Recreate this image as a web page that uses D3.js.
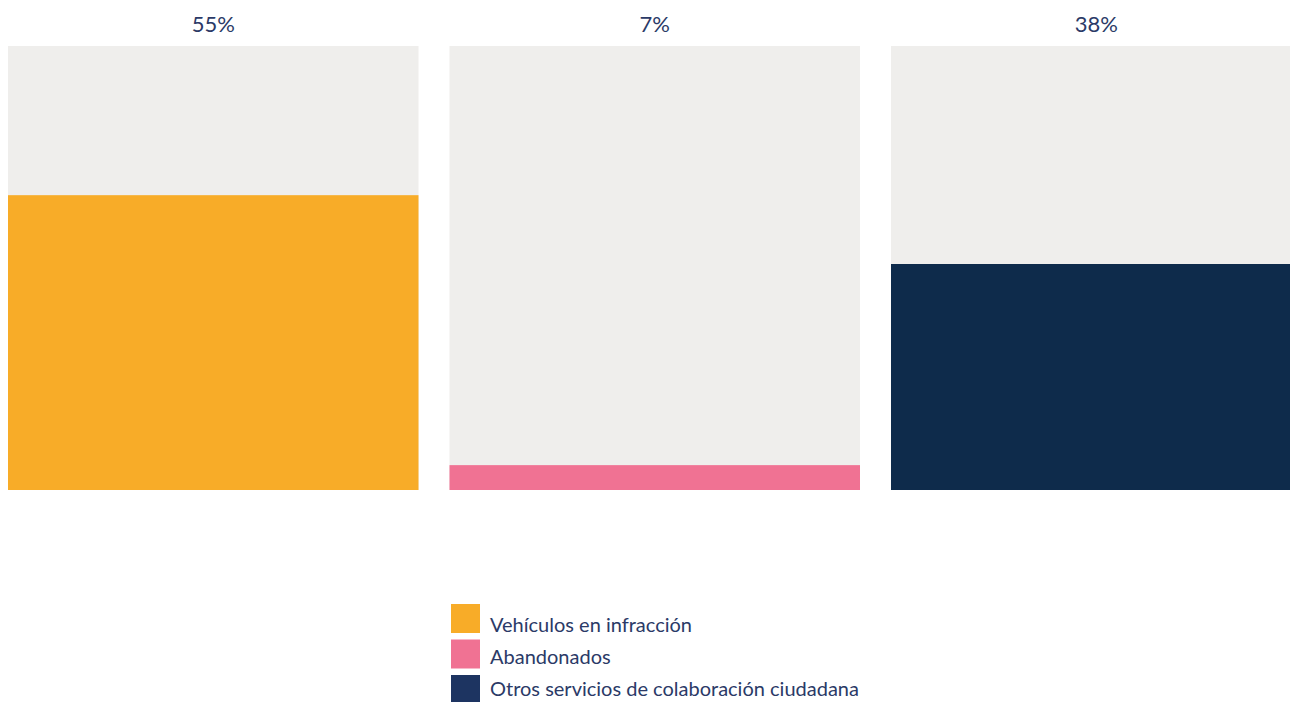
<!DOCTYPE html>
<html>
  <head>
    <meta charset="UTF-8">
    <title>Servicios de grúa</title>
    <script src="https://d3js.org/d3.v7.min.js"></script>
    <style>
      body { margin: 0; background: #fff; }
      svg { display: block; font-family: Lato, "Open Sans", sans-serif; }
    </style>
  </head>
  <body>
    <div id="chart-container"></div>
    <script>
      // categories and values
      const categories = ["Vehículos en infracción", "Abandonados", "Otros servicios de colaboración ciudadana"];
      const shareLabels = [55, 7, 38];          // percentage printed above each panel
      const fillLevels = [66.4, 5.6, 50.9];     // filled height of each panel (% of panel)
      const colors = ["#f8ac28", "#f07293", "#0e2b4b"];
      const legendColors = ["#f8ac28", "#f07293", "#1d3461"];

      const width = 1290, height = 702;
      const panelTop = 46, panelBottom = 490;

      const svg = d3.select("#chart-container")
        .append("svg")
        .attr("width", width)
        .attr("height", height);

      // x: one panel per category (third panel runs past the right edge)
      const step = 441.5, gap = 31;
      const x = d3.scaleBand()
        .domain(categories)
        .range([8, 8 + 3 * step - gap])
        .paddingInner(gap / step)
        .paddingOuter(0);

      const y = d3.scaleLinear()
        .domain([0, 100])
        .range([panelBottom, panelTop]);

      const data = categories.map((c, i) => ({
        cat: c, label: shareLabels[i], level: fillLevels[i], color: colors[i]
      }));

      // grey background panels
      svg.selectAll("rect.bg")
        .data(data)
        .join("rect")
        .attr("class", "bg")
        .attr("x", d => x(d.cat))
        .attr("y", y(100))
        .attr("width", x.bandwidth())
        .attr("height", y(0) - y(100))
        .attr("fill", "#efeeec");

      // filled bars
      svg.selectAll("rect.bar")
        .data(data)
        .join("rect")
        .attr("class", "bar")
        .attr("x", d => x(d.cat))
        .attr("y", d => y(d.level))
        .attr("width", x.bandwidth())
        .attr("height", d => y(0) - y(d.level))
        .attr("fill", d => d.color);

      // percentage labels
      svg.selectAll("text.pct")
        .data(data)
        .join("text")
        .attr("class", "pct")
        .attr("x", d => x(d.cat) + x.bandwidth() / 2)
        .attr("y", 32)
        .attr("text-anchor", "middle")
        .attr("fill", "#2b3a67")
        .style("font-size", "22px")
        .text(d => d.label + "%");

      // legend
      const legend = svg.append("g")
        .attr("transform", "translate(451, 604)");

      legend.selectAll("rect")
        .data(categories)
        .join("rect")
        .attr("x", 0)
        .attr("y", (d, i) => i * 35.5)
        .attr("width", 29)
        .attr("height", 29)
        .attr("fill", (d, i) => legendColors[i]);

      legend.selectAll("text")
        .data(categories)
        .join("text")
        .attr("x", 39)
        .attr("y", (d, i) => 28 + i * 32)
        .attr("fill", "#2b3a67")
        .style("font-size", "20px")
        .text(d => d);
    </script>
  </body>
</html>
